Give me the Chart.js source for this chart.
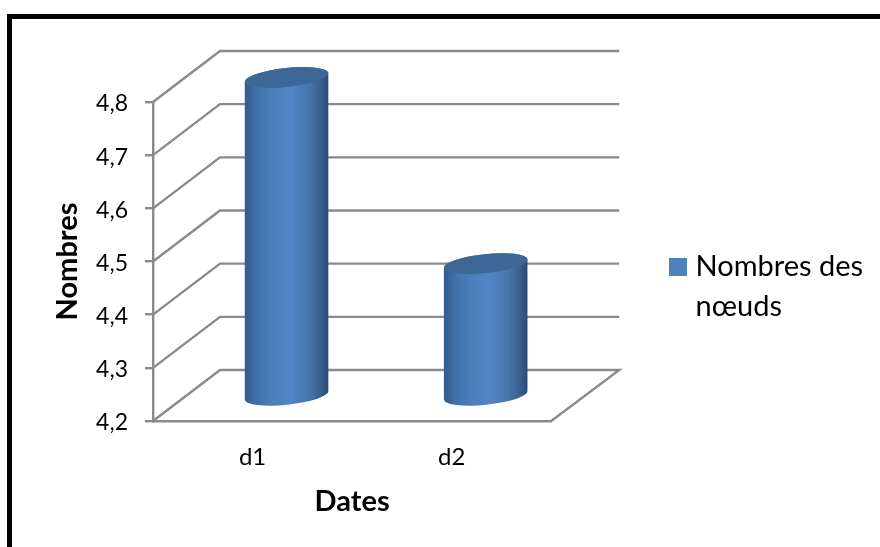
<!DOCTYPE html>
<html>
<head>
<meta charset="utf-8">
<style>
  html, body { margin: 0; padding: 0; background: #fff; overflow: hidden; }
  #frame { position: absolute; left: 7px; top: 14px; width: 880px; height: 540px; border-left: 5px solid #000; border-top: 5px solid #000; }
  #wrap { position: absolute; left: 0; top: 0; width: 880px; height: 547px; }
</style>
<script src="https://cdn.jsdelivr.net/npm/chart.js@4/dist/chart.umd.min.js"></script>
</head>
<body>
<div id="frame"></div>
<div id="wrap"><canvas id="chart" width="880" height="547"></canvas></div>
<script>
"use strict";

const categories = ["d1", "d2"];
const nodeCounts = [4.8, 4.45];
const yTicks = [4.2, 4.3, 4.4, 4.5, 4.6, 4.7, 4.8];
const seriesLabel = "Nombres des nœuds";
const legendLines = ["Nombres des", "nœuds"];

const FONT = "Lato, 'Open Sans', sans-serif";
const GRID_COLOR = "#8a8a8a";
const BLUE = "#4f81bd";
const WALL_DX = 67;
const WALL_DY = -51;
const BAR_DX = 34;
const BAR_DY = -24.5;
const CAP_RX = 42;
const CAP_RY = 9.5;
const CAP_TILT = -6 * Math.PI / 180;

// 3D walls and floor, hung on the real scales
const wallsPlugin = {
  id: "walls",
  beforeDatasetsDraw(chart) {
    const { ctx, scales } = chart;
    const left = scales.x.left;
    const right = scales.x.right;
    ctx.save();
    ctx.strokeStyle = GRID_COLOR;
    ctx.lineWidth = 2.4;
    for (const tick of yTicks) {
      const y = scales.y.getPixelForValue(tick);
      ctx.beginPath();
      ctx.moveTo(left, y);
      ctx.lineTo(left + WALL_DX, y + WALL_DY);
      ctx.lineTo(right + WALL_DX + 1, y + WALL_DY);
      if (tick === yTicks[0]) ctx.lineTo(right, y);
      ctx.stroke();
    }
    ctx.restore();
  }
};

// draws the bars as tilted cylinders instead of flat rectangles
const cylinderPlugin = {
  id: "cylinders",
  beforeDatasetDraw(chart, args) {
    const { ctx } = chart;
    for (const bar of args.meta.data) {
      const cx = bar.x + BAR_DX;
      const topY = bar.y + BAR_DY;
      const baseY = bar.base + BAR_DY;
      const grad = ctx.createLinearGradient(cx - CAP_RX, 0, cx + CAP_RX, 0);
      grad.addColorStop(0, "#2f5a8c");
      grad.addColorStop(0.12, "#3f6fa6");
      grad.addColorStop(0.3, "#4a7db8");
      grad.addColorStop(0.55, "#5285c7");
      grad.addColorStop(0.78, "#4674aa");
      grad.addColorStop(0.92, "#375c8b");
      grad.addColorStop(1, "#2c4a70");
      ctx.save();
      ctx.beginPath();
      ctx.ellipse(cx, baseY, CAP_RX, CAP_RY, CAP_TILT, 0, Math.PI, false);
      ctx.ellipse(cx, topY, CAP_RX, CAP_RY, CAP_TILT, Math.PI, Math.PI * 2, false);
      ctx.closePath();
      ctx.fillStyle = grad;
      ctx.fill();
      ctx.beginPath();
      ctx.ellipse(cx, topY, CAP_RX, CAP_RY, CAP_TILT, 0, Math.PI * 2);
      ctx.fillStyle = "#3d6796";
      ctx.fill();
      ctx.restore();
    }
    return false;
  }
};

// legend sits away from the plot because the 3D floor runs past the scale
const legendSpotPlugin = {
  id: "legendSpot",
  afterLayout(chart) {
    const legend = chart.legend;
    legend.left = 669;
    legend.right = 880;
    legend.top = 246.5;
    legend.bottom = 340;
    legend.width = legend.right - legend.left;
    legend.height = legend.bottom - legend.top;
  }
};

new Chart(document.getElementById("chart"), {
  type: "bar",
  data: {
    labels: categories,
    datasets: [{
      label: seriesLabel,
      data: nodeCounts,
      base: yTicks[0],
      backgroundColor: BLUE,
      barThickness: 84
    }]
  },
  plugins: [wallsPlugin, cylinderPlugin, legendSpotPlugin],
  options: {
    responsive: false,
    animation: false,
    layout: { padding: { top: 102, right: 145, bottom: 0, left: 0 } },
    plugins: {
      tooltip: { enabled: false },
      legend: {
        position: "right",
        align: "start",
        labels: {
          padding: 6,
          boxWidth: 6,
          boxHeight: 6,
          color: "#000",
          font: { family: FONT, size: 29, lineHeight: 1.35 },
          generateLabels: () => [{
            text: legendLines,
            fillStyle: BLUE,
            strokeStyle: BLUE,
            lineWidth: 12,
            datasetIndex: 0,
            hidden: false
          }]
        }
      }
    },
    scales: {
      x: {
        grid: { display: false },
        border: { color: GRID_COLOR, width: 2.4 },
        ticks: { color: "#000", padding: 14, font: { family: FONT, size: 24 } },
        title: {
          display: true,
          text: "Dates",
          color: "#000",
          padding: { top: 20, bottom: 28 },
          font: { family: FONT, size: 29, weight: "bold" }
        },
        afterFit(scale) { scale.height = 126; }
      },
      y: {
        min: 4.2,
        max: 4.8,
        afterBuildTicks(scale) { scale.ticks = yTicks.map((value) => ({ value })); },
        grid: { drawOnChartArea: false, color: GRID_COLOR, lineWidth: 2.4, tickLength: 8 },
        border: { color: GRID_COLOR, width: 2.4 },
        ticks: {
          color: "#000",
          padding: 17,
          labelOffset: 2,
          font: { family: FONT, size: 23 },
          callback: (value) => value.toFixed(1).replace(".", ",")
        },
        title: {
          display: true,
          text: "Nombres",
          color: "#000",
          padding: { top: 50, bottom: 0 },
          font: { family: FONT, size: 29, weight: "bold" }
        },
        afterFit(scale) { scale.width = 153; }
      }
    }
  }
});
</script>
</body>
</html>
